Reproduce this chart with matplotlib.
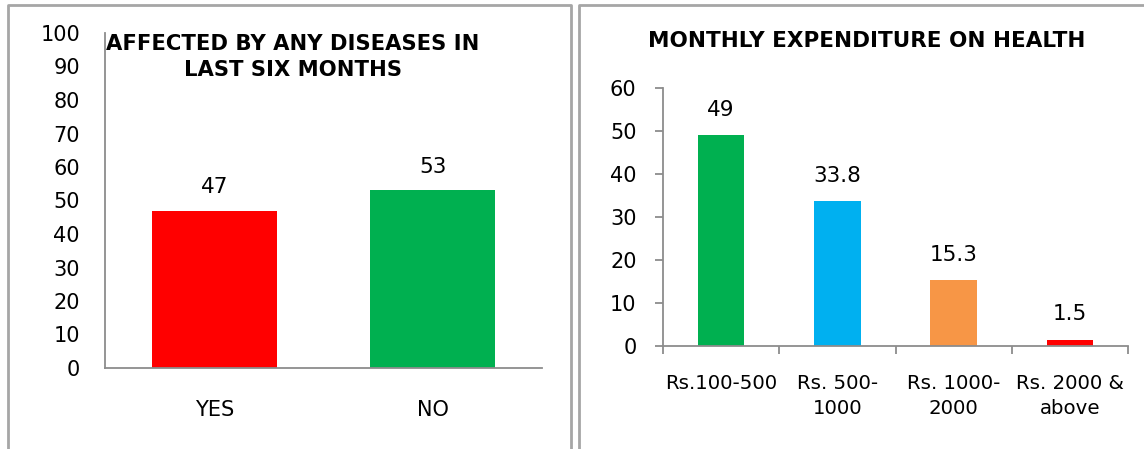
import numpy as np
import matplotlib
matplotlib.use('Agg')
import matplotlib.pyplot as plt
from matplotlib.lines import Line2D

plt.rcParams['font.family'] = ['DejaVu Sans']

# left chart data
cat1 = ['YES', 'NO']
val1 = [47, 53]
col1 = ['#FF0000', '#00B050']

# right chart data
cat2 = ['Rs.100-500', 'Rs. 500-\n1000', 'Rs. 1000-\n2000', 'Rs. 2000 &\nabove']
val2 = [49, 33.8, 15.3, 1.5]
col2 = ['#00B050', '#00B0F0', '#F79646', '#FF0000']

W, H = 1144, 449
fig = plt.figure(figsize=(W / 100, H / 100), dpi=100)
gray = '#8C8C8C'

# panel frames
def fx(px):
    return px / W

def fy(py):
    return 1 - py / H

for xs, ys in [([8, 8, 571, 571], [H + 5, 5, 5, H + 5]),
               ([579, 579, W + 5], [H + 5, 5, 5])]:
    fig.add_artist(Line2D([fx(x) for x in xs], [fy(y) for y in ys],
                          color='#A6A6A6', lw=2, transform=fig.transFigure))

# ---- left chart
ax1 = fig.add_axes([fx(105), fy(368), fx(542 - 105), (368 - 33) / H])
x1 = np.arange(len(cat1))
ax1.bar(x1, val1, width=0.57, color=col1)
ax1.set_xlim(-0.5, 1.5)
ax1.set_ylim(0, 100)
ax1.set_yticks(range(0, 101, 10))
ax1.set_xticks(x1)
ax1.set_xticklabels(cat1)
ax1.tick_params(length=0, labelsize=15)
ax1.tick_params(axis='y', pad=18)
ax1.tick_params(axis='x', pad=23)
for s in ['top', 'right']:
    ax1.spines[s].set_visible(False)
for s in ['left', 'bottom']:
    ax1.spines[s].set_color(gray)
    ax1.spines[s].set_linewidth(1.3)
for xi, v in zip(x1, val1):
    ax1.text(xi, v + 4, f'{v}', ha='center', va='bottom', fontsize=15.5)
fig.text(fx(293), fy(57), 'AFFECTED BY ANY DISEASES IN\nLAST SIX MONTHS',
         ha='center', va='center', fontsize=15.2, fontweight='bold',
         linespacing=1.4)

# ---- right chart
ax2 = fig.add_axes([fx(663), fy(346), fx(1128 - 663), (346 - 88) / H])
x2 = np.arange(len(cat2))
ax2.bar(x2, val2, width=0.4, color=col2)
ax2.set_xlim(-0.5, 3.5)
ax2.set_ylim(0, 60)
ax2.set_yticks(range(0, 61, 10))
ax2.set_xticks(x2)
ax2.set_xticklabels(cat2, linespacing=1.4)
ax2.set_xticks(np.arange(-0.5, 4, 1), minor=True)
ax2.tick_params(axis='x', which='major', length=0, pad=20, labelsize=14.2)
ax2.tick_params(axis='x', which='minor', length=6, color=gray, width=1.3)
ax2.tick_params(axis='y', length=6, color=gray, width=1.3, labelsize=15, pad=13)
for s in ['top', 'right']:
    ax2.spines[s].set_visible(False)
for s in ['left', 'bottom']:
    ax2.spines[s].set_color(gray)
    ax2.spines[s].set_linewidth(1.3)
for xi, v in zip(x2, val2):
    ax2.text(xi, v + 3.5, f'{v:g}', ha='center', va='bottom', fontsize=15.5)
fig.text(fx(867), fy(41), 'MONTHLY EXPENDITURE ON HEALTH',
         ha='center', va='center', fontsize=15.5, fontweight='bold')

fig.savefig('out.png', dpi=100)
